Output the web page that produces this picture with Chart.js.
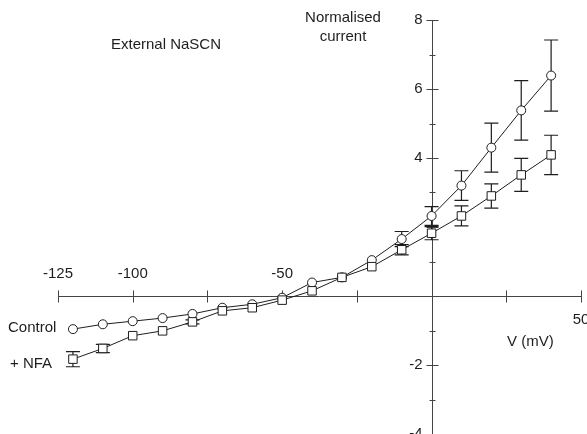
<!DOCTYPE html>
<html>
<head>
<meta charset="utf-8">
<script src="https://cdn.jsdelivr.net/npm/chart.js@4"></script>
<style>
  html, body { margin: 0; padding: 0; background: #fff; }
  #wrap { position: relative; width: 587px; height: 434px; }
</style>
</head>
<body>
<div id="wrap"><canvas id="iv"></canvas></div>
<script>
// membrane potential (mV)
const voltages = [-120, -110, -100, -90, -80, -70, -60, -50, -40, -30, -20, -10, 0, 10, 20, 30, 40];

// normalised current, control
const controlMean = [-0.96, -0.82, -0.73, -0.64, -0.52, -0.34, -0.24, -0.05, 0.39, 0.54, 1.04, 1.65, 2.32, 3.2, 4.3, 5.38, 6.39];
const controlErr  = [0, 0, 0, 0, 0, 0, 0, 0, 0, 0, 0, 0.22, 0.27, 0.43, 0.71, 0.86, 1.03];

// normalised current, + NFA
const nfaMean = [-1.83, -1.52, -1.15, -1.01, -0.75, -0.43, -0.34, -0.12, 0.15, 0.54, 0.85, 1.34, 1.82, 2.32, 2.9, 3.51, 4.09];
const nfaErr  = [0.22, 0.12, 0, 0, 0.06, 0, 0, 0, 0, 0, 0, 0.15, 0.19, 0.29, 0.35, 0.48, 0.57];

const xTickLabels = [-125, -100, -50];
const yTickLabels = [8, 6, 4, -2, -4];

const INK = '#1e1e1e';
const FONT = '15px "Liberation Sans", Arial, sans-serif';

function toPoints(ys) {
  return voltages.map((v, i) => ({ x: v, y: ys[i] }));
}

// crossed axes through the origin, drawn from the chart's scales
const axesPlugin = {
  id: 'crossAxes',
  beforeDatasetsDraw(chart) {
    const { ctx, scales: { x, y } } = chart;
    const x0 = Math.round(x.getPixelForValue(0)) + 0.5;
    const y0 = Math.round(y.getPixelForValue(0)) + 0.5;
    ctx.save();
    ctx.strokeStyle = '#444';
    ctx.lineWidth = 1;
    ctx.beginPath();
    ctx.moveTo(x.getPixelForValue(-125), y0);
    ctx.lineTo(x.getPixelForValue(50), y0);
    ctx.moveTo(x0, y.getPixelForValue(8));
    ctx.lineTo(x0, y.getPixelForValue(-4));
    for (let v = -125; v <= 50; v += 25) {
      if (v === 0) continue;
      const px = Math.round(x.getPixelForValue(v)) + 0.5;
      ctx.moveTo(px, y0 - 6);
      ctx.lineTo(px, y0 + 6);
    }
    for (let v = -4; v <= 8; v++) {
      if (v === 0) continue;
      const py = Math.round(y.getPixelForValue(v)) + 0.5;
      const len = v % 2 === 0 ? 6 : 3;
      ctx.moveTo(x0 - len, py);
      ctx.lineTo(x0 + len, py);
    }
    ctx.stroke();

    ctx.fillStyle = INK;
    ctx.font = FONT;
    ctx.textAlign = 'center';
    ctx.textBaseline = 'middle';
    xTickLabels.forEach(v => ctx.fillText(String(v), x.getPixelForValue(v), y0 - 23));
    ctx.fillText('50', x.getPixelForValue(50), y0 + 23);
    ctx.textAlign = 'right';
    yTickLabels.forEach(v => ctx.fillText(String(v), x0 - 10, y.getPixelForValue(v)));
    ctx.restore();
  }
};

// vertical error bars with caps
const errorBarPlugin = {
  id: 'errorBars',
  beforeDatasetsDraw(chart) {
    const { ctx, scales: { x, y } } = chart;
    ctx.save();
    ctx.strokeStyle = INK;
    ctx.lineWidth = 1.2;
    chart.data.datasets.forEach(ds => {
      ds.errors.forEach((e, i) => {
        if (!e) return;
        const px = x.getPixelForValue(voltages[i]);
        const top = y.getPixelForValue(ds.data[i].y + e);
        const bot = y.getPixelForValue(ds.data[i].y - e);
        ctx.beginPath();
        ctx.moveTo(px, top);
        ctx.lineTo(px, bot);
        ctx.moveTo(px - 7, top);
        ctx.lineTo(px + 7, top);
        ctx.moveTo(px - 7, bot);
        ctx.lineTo(px + 7, bot);
        ctx.stroke();
      });
    });
    ctx.restore();
  }
};

// free text annotations
const labelsPlugin = {
  id: 'notes',
  afterDraw(chart) {
    const { ctx } = chart;
    ctx.save();
    ctx.fillStyle = INK;
    ctx.font = FONT;
    ctx.textBaseline = 'middle';
    ctx.textAlign = 'center';
    ctx.fillText('External NaSCN', 166, 45);
    ctx.fillText('Normalised', 343, 18);
    ctx.fillText('current', 343, 37);
    ctx.textAlign = 'left';
    ctx.fillText('Control', 8, 328);
    ctx.fillText('+ NFA', 10, 364);
    ctx.fillText('V (mV)', 507, 342);
    ctx.restore();
  }
};

new Chart(document.getElementById('iv'), {
  type: 'line',
  data: {
    datasets: [
      {
        label: 'Control',
        data: toPoints(controlMean),
        errors: controlErr,
        borderColor: INK,
        borderWidth: 1,
        pointStyle: 'circle',
        pointRadius: 4.5,
        pointBackgroundColor: '#fff',
        pointBorderColor: INK,
        pointBorderWidth: 1,
        order: 1
      },
      {
        label: '+ NFA',
        data: toPoints(nfaMean),
        errors: nfaErr,
        borderColor: INK,
        borderWidth: 1,
        pointStyle: 'rect',
        pointRadius: 6,
        pointBackgroundColor: '#fff',
        pointBorderColor: INK,
        pointBorderWidth: 1,
        order: 0
      }
    ]
  },
  options: {
    responsive: true,
    maintainAspectRatio: false,
    animation: false,
    layout: { autoPadding: false, padding: { left: 58, right: 6, top: 20, bottom: 0 } },
    plugins: { legend: { display: false }, tooltip: { enabled: false } },
    scales: {
      x: { type: 'linear', min: -125, max: 50, display: false },
      y: { type: 'linear', min: -4, max: 8, display: false }
    }
  },
  plugins: [axesPlugin, errorBarPlugin, labelsPlugin]
});
</script>
</body>
</html>
